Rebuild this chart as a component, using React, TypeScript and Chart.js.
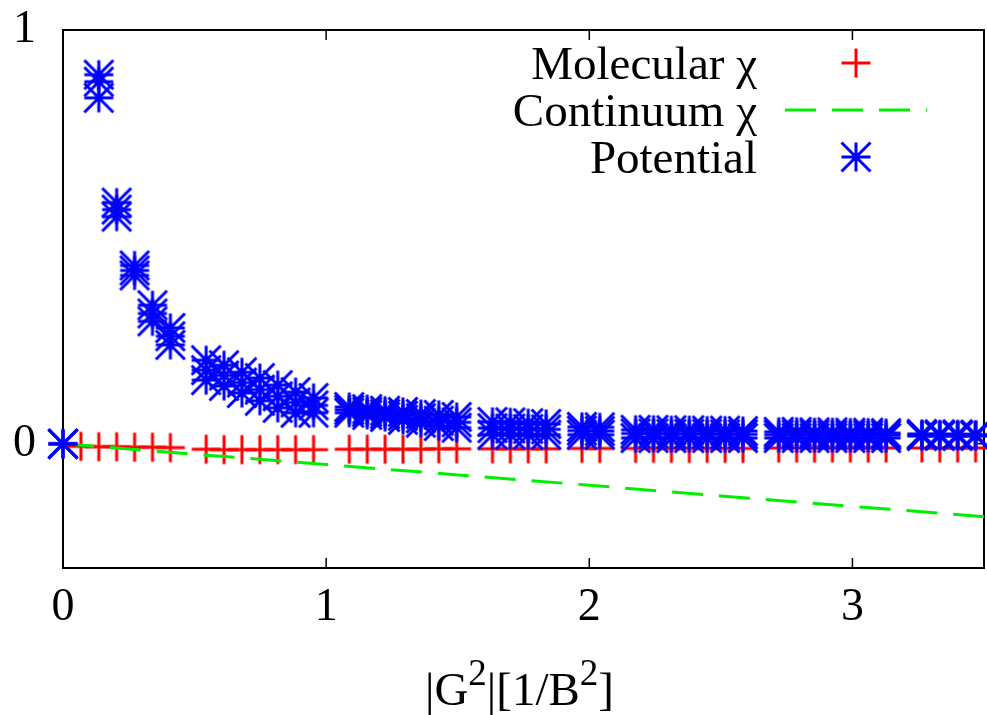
import React, { useEffect, useRef } from "react";
import { Chart, registerables } from "chart.js";

Chart.register(...registerables);

// |G^2| shells (1/B^2) where the molecular susceptibility is sampled
const shellG2 = [
  0.068, 0.136, 0.204, 0.272, 0.34, 0.408,
  0.544, 0.612, 0.68, 0.748, 0.816, 0.884, 0.952,
  1.088, 1.156, 1.224, 1.292, 1.36, 1.428, 1.496,
  1.632, 1.7, 1.768, 1.836,
  1.972, 2.04,
  2.176, 2.244, 2.312, 2.38, 2.448, 2.516, 2.584,
  2.72, 2.788, 2.856, 2.924, 2.992, 3.06, 3.128,
  3.264, 3.332, 3.4, 3.468,
];

const molecularChi = [
  -0.006, -0.007, -0.007, -0.008, -0.008, -0.009,
  -0.013, -0.014, -0.014, -0.014, -0.014, -0.014, -0.014,
  -0.013, -0.013, -0.013, -0.013, -0.013, -0.012, -0.012,
  -0.012, -0.012, -0.012, -0.012,
  -0.011, -0.011,
  -0.011, -0.011, -0.011, -0.011, -0.011, -0.011, -0.011,
  -0.01, -0.01, -0.01, -0.01, -0.01, -0.01, -0.01,
  -0.01, -0.01, -0.01, -0.01,
];

const continuumG2 = [0, 0.5, 1, 1.5, 2, 2.5, 3, 3.5];
const continuumChi = [0, -0.025, -0.05, -0.075, -0.1, -0.126, -0.151, -0.176];

const potentialG2 = [
  0, 0.136, 0.204, 0.272, 0.34, 0.408,
  0.544, 0.612, 0.68, 0.748, 0.816, 0.884, 0.952,
  1.088, 1.156, 1.224, 1.292, 1.36, 1.428, 1.496,
  1.632, 1.7, 1.768, 1.836,
  1.972, 2.04,
  2.176, 2.244, 2.312, 2.38, 2.448, 2.516, 2.584,
  2.72, 2.788, 2.856, 2.924, 2.992, 3.06, 3.128,
  3.264, 3.332, 3.4, 3.468,
];
const potentialHigh = [
  0, 0.892, 0.583, 0.431, 0.335, 0.28,
  0.202, 0.19, 0.173, 0.159, 0.142, 0.125, 0.111,
  0.089, 0.084, 0.08, 0.077, 0.072, 0.07, 0.065,
  0.053, 0.052, 0.05, 0.048,
  0.041, 0.04,
  0.034, 0.034, 0.033, 0.033, 0.032, 0.032, 0.031,
  0.029, 0.029, 0.028, 0.028, 0.027, 0.027, 0.026,
  0.024, 0.023, 0.023, 0.022,
];
const potentialMid = [
  0, 0.875, 0.566, 0.419, 0.315, 0.26,
  0.178, 0.165, 0.148, 0.131, 0.115, 0.1, 0.093,
  0.082, 0.077, 0.072, 0.068, 0.062, 0.056, 0.052,
  0.038, 0.037, 0.036, 0.035,
  0.032, 0.031,
  0.025, 0.025, 0.024, 0.024, 0.024, 0.023, 0.023,
  0.022, 0.022, 0.022, 0.021, 0.021, 0.021, 0.021,
  0.021, 0.021, 0.021, 0.021,
];
const potentialLow = [
  0, 0.836, 0.549, 0.407, 0.296, 0.239,
  0.154, 0.14, 0.123, 0.104, 0.087, 0.075, 0.075,
  0.075, 0.07, 0.065, 0.058, 0.051, 0.043, 0.039,
  0.022, 0.022, 0.022, 0.022,
  0.022, 0.022,
  0.014, 0.014, 0.014, 0.014, 0.014, 0.014, 0.014,
  0.014, 0.014, 0.014, 0.014, 0.014, 0.014, 0.014,
  0.019, 0.019, 0.019, 0.019,
];

const xTickValues = [0, 1, 2, 3];
const yTickValues = [0, 1];
const seriesLabels = ["Molecular \u03c7", "Continuum \u03c7", "Potential"];
// x-axis title pieces: [text, isSuperscript]
const xTitleParts: [string, boolean][] = [
  ["|G", false],
  ["2", true],
  ["|[1/B", false],
  ["2", true],
  ["]", false],
];

const FONT = "'Liberation Serif', 'Times New Roman', Times, serif";
const RED = "#ff0000";
const GREEN = "#00ee00";
const BLUE = "#0000ff";
const DASH = [31, 16];

function makeMarker(kind: "plus" | "star", color: string, half: number, lw: number) {
  const s = Math.ceil(2 * half + lw + 2);
  const c = document.createElement("canvas");
  c.width = s;
  c.height = s;
  const g = c.getContext("2d")!;
  const m = s / 2;
  g.strokeStyle = color;
  g.lineWidth = lw;
  g.beginPath();
  g.moveTo(m - half, m);
  g.lineTo(m + half, m);
  g.moveTo(m, m - half);
  g.lineTo(m, m + half);
  if (kind === "star") {
    g.moveTo(m - half, m - half);
    g.lineTo(m + half, m + half);
    g.moveTo(m + half, m - half);
    g.lineTo(m - half, m + half);
  }
  g.stroke();
  return c;
}

const framePlugin = {
  id: "frame",
  beforeDatasetsDraw(chart: any) {
    const { ctx, chartArea: a, scales } = chart;
    ctx.save();
    ctx.strokeStyle = "#000";
    ctx.lineWidth = 2;
    ctx.strokeRect(a.left, a.top, a.right - a.left, a.bottom - a.top);
    ctx.lineWidth = 1.5;
    ctx.beginPath();
    for (const v of xTickValues) {
      const px = scales.x.getPixelForValue(v);
      if (px <= a.left + 1 || px >= a.right - 1) continue;
      ctx.moveTo(px, a.bottom);
      ctx.lineTo(px, a.bottom - 10);
      ctx.moveTo(px, a.top);
      ctx.lineTo(px, a.top + 10);
    }
    for (const v of yTickValues) {
      const py = scales.y.getPixelForValue(v);
      if (py <= a.top + 1 || py >= a.bottom - 1) continue;
      ctx.moveTo(a.left, py);
      ctx.lineTo(a.left + 10, py);
      ctx.moveTo(a.right, py);
      ctx.lineTo(a.right - 10, py);
    }
    ctx.stroke();
    ctx.restore();
  },
};

const titlePlugin = {
  id: "gnuTitle",
  afterDraw(chart: any) {
    const { ctx, chartArea: a } = chart;
    const mainFont = `47px ${FONT}`;
    const supFont = `37px ${FONT}`;
    ctx.save();
    let total = 0;
    for (const [t, sup] of xTitleParts) {
      ctx.font = sup ? supFont : mainFont;
      total += ctx.measureText(t).width;
    }
    let x = (a.left + a.right) / 2 - total / 2 - 4;
    const base = 705;
    ctx.fillStyle = "#000";
    ctx.textAlign = "left";
    ctx.textBaseline = "alphabetic";
    for (const [t, sup] of xTitleParts) {
      ctx.font = sup ? supFont : mainFont;
      ctx.fillText(t, x, sup ? base - 20 : base);
      x += ctx.measureText(t).width;
    }
    ctx.restore();
  },
};

const keyPlugin = {
  id: "gnuKey",
  afterDatasetsDraw(chart: any) {
    const { ctx, chartArea: a } = chart;
    const textRight = a.right - 227;
    const sampleX = a.right - 128;
    ctx.save();
    ctx.font = `47px ${FONT}`;
    ctx.textAlign = "right";
    ctx.textBaseline = "alphabetic";
    chart.data.datasets.forEach((ds: any, i: number) => {
      const base = a.top + 49 + i * 47;
      const cy = base - 16;
      ctx.fillStyle = "#000";
      ctx.fillText(ds.label, textRight, base);
      if (ds.showLine) {
        ctx.save();
        ctx.strokeStyle = ds.borderColor;
        ctx.lineWidth = ds.borderWidth;
        ctx.setLineDash(ds.borderDash || []);
        ctx.beginPath();
        ctx.moveTo(sampleX - 71, cy);
        ctx.lineTo(sampleX + 71, cy);
        ctx.stroke();
        ctx.restore();
      } else if (ds.pointStyle && ds.pointStyle.width) {
        const img = ds.pointStyle;
        ctx.drawImage(img, sampleX - img.width / 2, cy - img.height / 2);
      }
    });
    ctx.restore();
  },
};

export default function App() {
  const ref = useRef<HTMLCanvasElement | null>(null);

  useEffect(() => {
    document.body.style.margin = "0";
    const plus = makeMarker("plus", RED, 14.5, 3);
    const star = makeMarker("star", BLUE, 14.5, 3);

    const molecularPts = shellG2.map((x, i) => ({ x, y: molecularChi[i] }));
    const continuumPts = continuumG2.map((x, i) => ({ x, y: continuumChi[i] }));
    const potentialPts: { x: number; y: number }[] = [];
    potentialG2.forEach((x, i) => {
      potentialPts.push({ x, y: potentialHigh[i] });
      potentialPts.push({ x, y: potentialMid[i] });
      potentialPts.push({ x, y: potentialLow[i] });
    });

    const chart = new Chart(ref.current!, {
      type: "scatter",
      data: {
        datasets: [
          {
            label: seriesLabels[0],
            data: molecularPts,
            pointStyle: plus as any,
            pointRadius: 15,
            borderColor: RED,
            backgroundColor: RED,
            order: 2,
            clip: false as any,
          },
          {
            label: seriesLabels[1],
            data: continuumPts,
            showLine: true,
            pointRadius: 0,
            borderColor: GREEN,
            borderWidth: 3,
            borderDash: DASH,
            order: 1,
          } as any,
          {
            label: seriesLabels[2],
            data: potentialPts,
            pointStyle: star as any,
            pointRadius: 16,
            borderColor: BLUE,
            backgroundColor: BLUE,
            order: 0,
            clip: false as any,
          },
        ],
      },
      options: {
        responsive: false,
        animation: false,
        events: [],
        layout: { autoPadding: false, padding: { top: 30, right: 3, left: 0, bottom: 0 } },
        plugins: {
          legend: { display: false },
          tooltip: { enabled: false },
        },
        scales: {
          x: {
            type: "linear",
            min: 0,
            max: 3.5,
            grid: { display: false, drawTicks: false },
            border: { display: false },
            ticks: {
              color: "#000",
              font: { family: FONT, size: 46 },
              padding: 12,
              maxRotation: 0,
              autoSkip: false,
            },
            afterBuildTicks: (s: any) => {
              s.ticks = xTickValues.map((v) => ({ value: v }));
            },
            afterFit: (s: any) => {
              s.height = 147;
              s.paddingLeft = 0;
              s.paddingRight = 0;
            },
            title: { display: false },
          },
          y: {
            type: "linear",
            min: -0.3,
            max: 1,
            grid: { display: false, drawTicks: false },
            border: { display: false },
            ticks: {
              color: "#000",
              font: { family: FONT, size: 46 },
              padding: 27,
              autoSkip: false,
            },
            afterBuildTicks: (s: any) => {
              s.ticks = yTickValues.map((v) => ({ value: v }));
            },
            afterFit: (s: any) => {
              s.width = 63;
              s.paddingTop = 0;
              s.paddingBottom = 0;
            },
          },
        },
      },
      plugins: [framePlugin, keyPlugin, titlePlugin],
    });
    return () => chart.destroy();
  }, []);

  return (
    <canvas
      ref={ref}
      width={987}
      height={715}
      style={{ display: "block", width: 987, height: 715 }}
    />
  );
}
